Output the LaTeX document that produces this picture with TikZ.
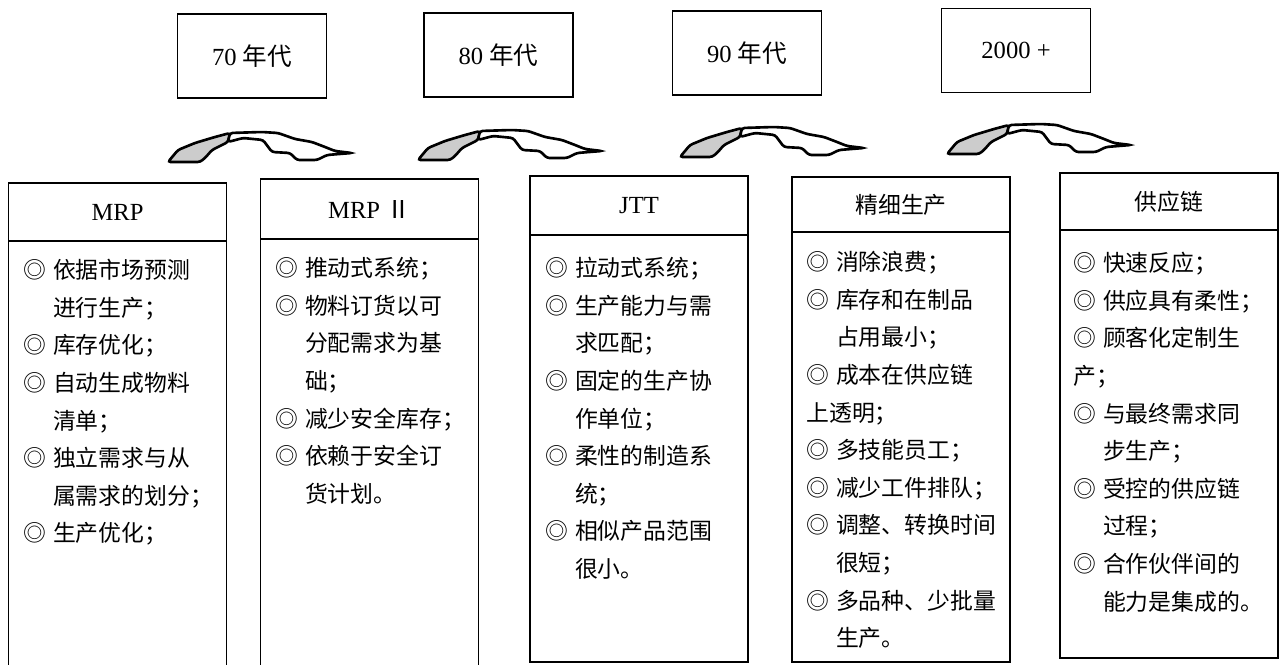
\documentclass[tikz,border=0pt]{standalone}
\usepackage{fontspec}
\setmainfont{Liberation Serif}
\newfontfamily\cjk{Noto Sans CJK SC}
\usepackage{tikz}
\newcommand{\itm}{◎\hspace{0.3em}}
\newcommand{\nxl}{\hspace*{1.3em}}
\newcommand{\bendarrow}[1]{%
\begin{scope}[shift={(#1)},line width=1.5pt,rounded corners=1.5pt]
\filldraw[fill=gray!40] (0,0) -- (10,-12) -- (27,-19) -- (47,-25) -- (62,-29) -- (60,-20) -- (44,-12) -- (37,-4) -- (32,0) -- cycle;
\filldraw[fill=white] (62,-29) -- (94,-30) -- (110,-29) -- (127,-23) -- (144,-20) -- (157,-15) -- (167,-11) -- (184,-9) -- (159,-7) -- (149,-2) -- (129,-2) -- (122,-9) -- (104,-10) -- (95,-22) -- (75,-24) -- (60,-20) -- cycle;
\end{scope}}

\begin{document}
\begin{tikzpicture}
[x=0.02cm,y=-0.02cm,
era/.style={rectangle,draw=black,line width=1pt,minimum width=2.98cm,minimum height=1.68cm,font=\fontsize{14pt}{16pt}\selectfont},
head/.style={rectangle,draw=black,line width=1pt,outer sep=0pt,minimum width=4.36cm,minimum height=1.16cm,font=\fontsize{14pt}{16pt}\selectfont},
body/.style={rectangle,draw=black,line width=1pt,outer sep=0pt,minimum width=4.36cm,inner sep=0pt,anchor=north},
txt/.style={anchor=north west,align=left,inner sep=0pt,font=\cjk\fontsize{13pt}{21.4pt}\selectfont}]

\useasboundingbox (0,0) rectangle (1287,665);

\node at (252,56)    [era] (e70)  {70 {\cjk 年代}};
\node at (498.5,55)  [era] (e80)  {80 {\cjk 年代}};
\node at (747,53)    [era] (e90)  {90 {\cjk 年代}};
\node at (1016,50.5) [era] (e2k)  {2000 +};

\coordinate (a1) at (168,162);
\coordinate (a2) at (418,160);
\coordinate (a3) at (680,157);
\coordinate (a4) at (947,154);
\bendarrow{a1}
\bendarrow{a2}
\bendarrow{a3}
\bendarrow{a4}

% columns
\node at (117.5,212) [head] (mrph) {MRP};
\node at (mrph.south) [body,minimum height=8.8cm] (mrpb) {};
\node at (369.5,209) [head,minimum height=1.2cm] (mrp2h) {MRP {\cjk Ⅱ}};
\node at (mrp2h.south) [body,minimum height=8.84cm] (mrp2b) {};
\node at (639,205.5) [head,minimum height=1.18cm] (jtth) {JTT};
\node at (jtth.south) [body,minimum height=8.54cm] (jttb) {};
\node at (901,204.5) [head,minimum height=1.1cm,font=\cjk\fontsize{13pt}{15pt}\selectfont] (leanh) {精细生产};
\node at (leanh.south) [body,minimum height=8.6cm] (leanb) {};
\node at (1169,201.5) [head,minimum height=1.14cm,font=\cjk\fontsize{13pt}{15pt}\selectfont] (scmh) {供应链};
\node at (scmh.south) [body,minimum height=8.56cm] (scmb) {};

\node at (23,259) [txt] (mrpt) {\itm 依据市场预测\\ \nxl 进行生产；\\ \itm 库存优化；\\ \itm 自动生成物料\\ \nxl 清单；\\ \itm 独立需求与从\\ \nxl 属需求的划分；\\ \itm 生产优化；};
\node at (275,257) [txt] (mrp2t) {\itm 推动式系统；\\ \itm 物料订货以可\\ \nxl 分配需求为基\\ \nxl 础；\\ \itm 减少安全库存；\\ \itm 依赖于安全订\\ \nxl 货计划。};
\node at (545,257) [txt] (jttt) {\itm 拉动式系统；\\ \itm 生产能力与需\\ \nxl 求匹配；\\ \itm 固定的生产协\\ \nxl 作单位；\\ \itm 柔性的制造系\\ \nxl 统；\\ \itm 相似产品范围\\ \nxl 很小。};
\node at (806,251) [txt] (leant) {\itm 消除浪费；\\ \itm 库存和在制品\\ \nxl 占用最小；\\ \itm 成本在供应链\\ 上透明；\\ \itm 多技能员工；\\ \itm 减少工件排队；\\ \itm 调整、转换时间\\ \nxl 很短；\\ \itm 多品种、少批量\\ \nxl 生产。};
\node at (1073,252) [txt] (scmt) {\itm 快速反应；\\ \itm 供应具有柔性；\\ \itm 顾客化定制生\\ 产；\\ \itm 与最终需求同\\ \nxl 步生产；\\ \itm 受控的供应链\\ \nxl 过程；\\ \itm 合作伙伴间的\\ \nxl 能力是集成的。};
\end{tikzpicture}
\end{document}
